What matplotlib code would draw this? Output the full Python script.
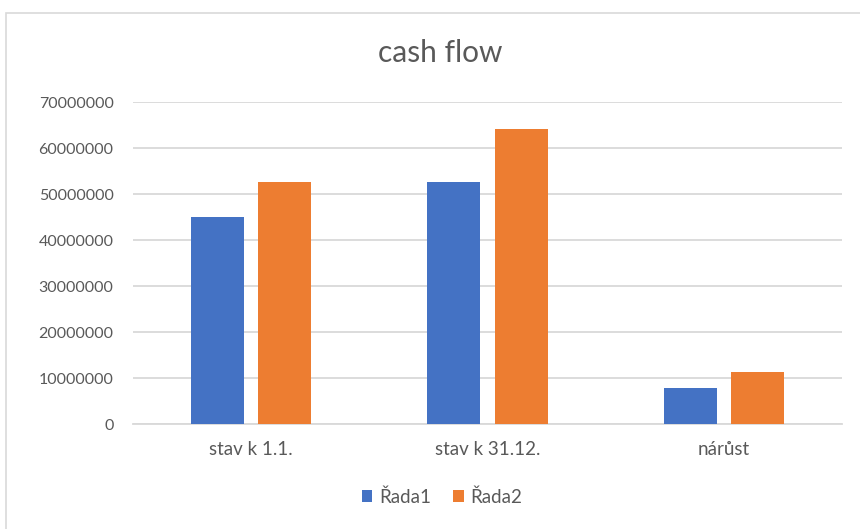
import matplotlib.pyplot as plt
import numpy as np
from matplotlib.patches import Rectangle

# data
categories = ['stav k 1.1.', 'stav k 31.12.', 'nárůst']
rada1 = [44900000, 52700000, 7800000]
rada2 = [52700000, 64100000, 11400000]
yticks = [0, 10000000, 20000000, 30000000, 40000000, 50000000, 60000000, 70000000]

plt.rcParams['font.family'] = ['Lato', 'DejaVu Sans']
text_col = '#595959'
grid_col = '#D9D9D9'

fig = plt.figure(figsize=(8.6, 5.29), dpi=100)
ax = fig.add_axes([133 / 860, 1 - 424 / 529, (842 - 133) / 860, (424 - 102) / 529])

x = np.arange(len(categories))
w = 0.224
ax.bar(x - 0.143, rada1, w, color='#4472C4', label='Řada1', zorder=3)
ax.bar(x + 0.143, rada2, w, color='#ED7D31', label='Řada2', zorder=3)

ax.set_xlim(-0.5, 2.5)
ax.set_ylim(0, 70000000)
ax.set_yticks(yticks)
ax.set_yticklabels([str(v) for v in yticks])
ax.set_xticks(x)
ax.set_xticklabels(categories)
ax.tick_params(axis='both', length=0, colors=text_col)
ax.tick_params(axis='y', pad=14, labelsize=11.5)
ax.tick_params(axis='x', pad=12, labelsize=13.5)
ax.grid(axis='y', color=grid_col, linewidth=1.3, zorder=0)
for s in ['top', 'right', 'left']:
    ax.spines[s].set_visible(False)
ax.spines['bottom'].set_color(grid_col)
ax.spines['bottom'].set_linewidth(1.3)

fig.text(440 / 860, 1 - 53 / 529, 'cash flow', ha='center', va='center',
         fontsize=21.5, color=text_col)

leg = fig.legend(loc='center', bbox_to_anchor=(442 / 860, 1 - 497 / 529), ncol=2,
                 frameon=False, fontsize=13.5, handlelength=0.55, handleheight=0.55,
                 handletextpad=0.35, columnspacing=1.2)
for t in leg.get_texts():
    t.set_color(text_col)

# outer chart border
fig.patches.append(Rectangle((6 / 860, -0.1), 1.0, 1 - 13 / 529 + 0.1,
                             transform=fig.transFigure, fill=False,
                             edgecolor='#D9D9D9', linewidth=1.2))

fig.savefig('out.png', dpi=100)
